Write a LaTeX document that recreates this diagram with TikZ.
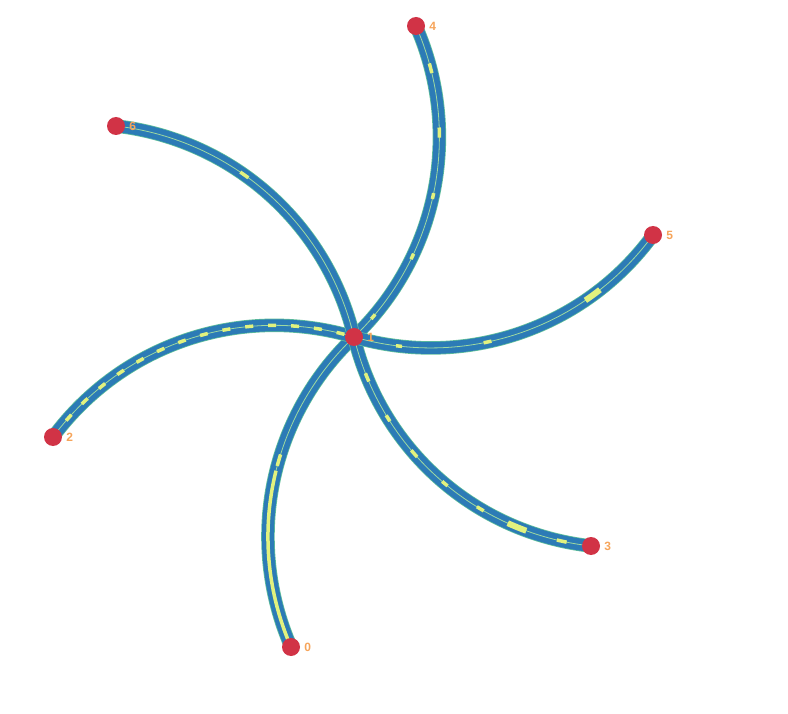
\documentclass[tikz,border=0pt]{standalone}
\usepackage{fontspec}
\setmainfont{Liberation Sans}
\usetikzlibrary{backgrounds}
\definecolor{eblue}{HTML}{2C7BB6}
\definecolor{egreen}{HTML}{5FBF9A}
\definecolor{emid}{HTML}{9ED9A0}
\definecolor{eyel}{HTML}{E2F27E}
\definecolor{nred}{HTML}{D13346}
\definecolor{lorange}{HTML}{F6A45A}
\tikzset{
 vtx/.style={circle,fill=nred,inner sep=0pt,minimum size=18pt},
 lbl/.style={anchor=west,text=lorange,font=\fontsize{12}{14}\selectfont\bfseries,inner sep=0pt},
 outl/.style={draw=egreen,line width=13.5pt},
 core/.style={draw=eblue,line width=12pt},
 midl/.style={draw=emid,line width=0.8pt},
 ydash/.style={draw=eyel,line width=3.5pt},
 ythick/.style={draw=eyel,line width=6pt},
 curv/.style={bend right=35,looseness=0.94}
}
\newcommand\myedge[4]{%
 \draw[outl] (#1.center) to[curv] (#2.center);
 \draw[core] (#1.center) to[curv] (#2.center);
 \draw[midl] (#1.center) to[curv] (#2.center);
 \draw[ydash,dash pattern=#3] (#1.center) to[curv] (#2.center);
 \draw[ythick,dash pattern=#4] (#1.center) to[curv] (#2.center);
}
\begin{document}
\begin{tikzpicture}[x=1pt,y=-1pt]
\useasboundingbox (0,0) rectangle (788,714);
\node[vtx] (n1) at (354,337) {};
\node[vtx] (n4) at (416,26) {};
\node[vtx] (n6) at (116,126) {};
\node[vtx] (n5) at (653,235) {};
\node[vtx] (n2) at (53,437) {};
\node[vtx] (n3) at (591,546) {};
\node[vtx] (n0) at (291,647) {};
\node[lbl] (l1) at ([xshift=4pt]n1.east) {1};
\node[lbl] (l4) at ([xshift=4pt]n4.east) {4};
\node[lbl] (l6) at ([xshift=4pt]n6.east) {6};
\node[lbl] (l5) at ([xshift=4pt]n5.east) {5};
\node[lbl] (l2) at ([xshift=4pt]n2.east) {2};
\node[lbl] (l3) at ([xshift=4pt]n3.east) {3};
\node[lbl] (l0) at ([xshift=4pt]n0.east) {0};
\begin{scope}[on background layer]
\myedge{n1}{n0}{on 0pt off 140pt on 12pt off 5pt on 185pt}{on 0pt off 400pt}
\myedge{n1}{n2}{on 8pt off 15pt,dash phase=13pt}{on 0pt off 400pt}
\myedge{n1}{n3}{on 0pt off 38pt on 9pt off 38pt on 7pt off 36pt on 9pt off 35pt on 7pt off 36pt on 8pt off 79pt on 10pt off 100pt}{on 0pt off 250pt on 20pt off 200pt}
\myedge{n1}{n4}{on 0pt off 25pt on 6pt off 66pt on 6pt off 58pt on 6pt off 56pt on 10pt off 55pt on 10pt off 200pt}{on 0pt off 400pt}
\myedge{n1}{n5}{on 0pt off 43pt on 6pt off 82pt on 8pt off 400pt}{on 0pt off 242pt on 18pt off 200pt}
\myedge{n1}{n6}{on 0pt off 195pt on 10pt off 200pt}{on 0pt off 400pt}
\end{scope}
\end{tikzpicture}
\end{document}
